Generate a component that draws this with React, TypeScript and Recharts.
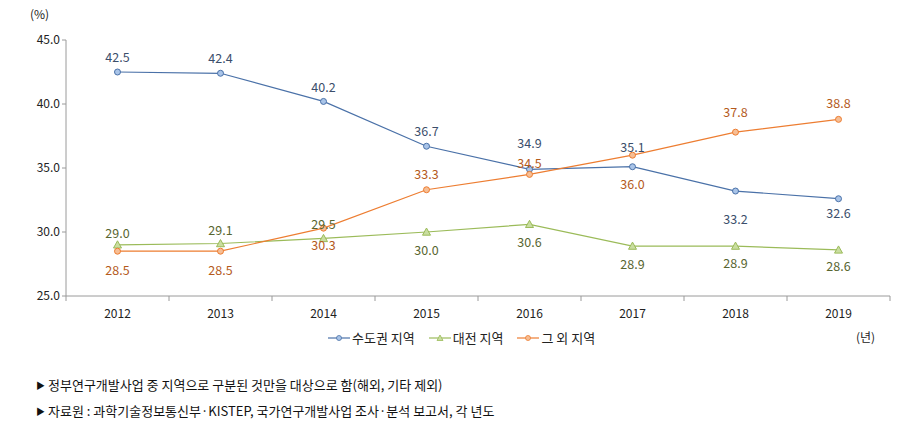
import React from 'react';
import { LineChart, Line, XAxis, YAxis } from 'recharts';

const years = ['2012', '2013', '2014', '2015', '2016', '2017', '2018', '2019'];
const capitalArea = [42.5, 42.4, 40.2, 36.7, 34.9, 35.1, 33.2, 32.6];
const daejeon = [29.0, 29.1, 29.5, 30.0, 30.6, 28.9, 28.9, 28.6];
const others = [28.5, 28.5, 30.3, 33.3, 34.5, 36.0, 37.8, 38.8];
const yTicks = [25, 30, 35, 40, 45];
const seriesNames = ['수도권 지역', '대전 지역', '그 외 지역'];
const notes = [
    '정부연구개발사업 중 지역으로 구분된 것만을 대상으로 함(해외, 기타 제외)',
    '자료원 : 과학기술정보통신부·KISTEP, 국가연구개발사업 조사·분석 보고서, 각 년도',
];

// vertical nudge of each value label from its point (px, negative = above)
const BLUE_NUDGE = [-16, -16, -15, -16, -27, -20, 27, 14];
const GREEN_NUDGE = [-12, -14, -15, 17, 17, 17, 16, 16];
const ORANGE_NUDGE = [18, 18, 16, -16, -12, 28, -21, -17];

const FONT = '"Noto Sans CJK KR", "Noto Sans", sans-serif';

const COLORS = {
    blue: { line: '#4A71A8', fill: '#A9C4E8', label: '#3B4E6B' },
    green: { line: '#9BBB59', fill: '#C9DDA0', label: '#58652F' },
    orange: { line: '#ED7D31', fill: '#F6BE95', label: '#B45A1C' },
};

const data = years.map((y, i) => ({
    year: y,
    capital: capitalArea[i],
    daejeon: daejeon[i],
    others: others[i],
}));

const BAND = 103;

const makeLabel = (nudge: number[], color: string) => (props: any) => {
    const { x, y, value, index } = props;
    return (
        <text
            key={index}
            x={x}
            y={y + nudge[index]}
            textAnchor="middle"
            dominantBaseline="central"
            fontSize={12.5}
            fontFamily={FONT}
            fill={color}
        >
            {Number(value).toFixed(1)}
        </text>
    );
};

const CircleDot = (c: { line: string; fill: string }) => (props: any) => {
    const { cx, cy, index } = props;
    return <circle key={index} cx={cx} cy={cy} r={3} fill={c.fill} stroke={c.line} strokeWidth={1} />;
};

const TriangleDot = (props: any) => {
    const { cx, cy, index } = props;
    const s = 4;
    return (
        <polygon
            key={index}
            points={`${cx},${cy - s} ${cx - s},${cy + s * 0.8} ${cx + s},${cy + s * 0.8}`}
            fill={COLORS.green.fill}
            stroke={COLORS.green.line}
            strokeWidth={1}
        />
    );
};

const XTick = (props: any) => {
    const { x, y, payload, index } = props;
    const last = index === years.length - 1;
    return (
        <g>
            <line x1={x - BAND / 2} y1={y - 8} x2={x - BAND / 2} y2={y - 3} stroke="#9a9a9a" />
            {last && <line x1={x + BAND / 2} y1={y - 8} x2={x + BAND / 2} y2={y - 3} stroke="#9a9a9a" />}
            <text x={x} y={y + 14} textAnchor="middle" fontSize={12} fontFamily={FONT} fill="#222">
                {payload.value}
            </text>
        </g>
    );
};

const LegendItem = ({ color, name, tri }: { color: { line: string; fill: string }; name: string; tri?: boolean }) => (
    <span style={{ display: 'inline-flex', alignItems: 'center', marginRight: 14 }}>
        <svg width={22} height={10}>
            <line x1={0} y1={5} x2={22} y2={5} stroke={color.line} strokeWidth={1.2} />
            {tri ? (
                <polygon points="11,2 8,7.5 14,7.5" fill={color.fill} stroke={color.line} strokeWidth={0.8} />
            ) : (
                <circle cx={11} cy={5} r={2.5} fill={color.fill} stroke={color.line} strokeWidth={0.8} />
            )}
        </svg>
        <span style={{ marginLeft: 2 }}>{name}</span>
    </span>
);

export default function App() {
    return (
        <div style={{ position: 'absolute', left: 0, top: 0, width: 910, height: 433, background: '#fff', fontFamily: FONT }}>
            <div style={{ position: 'absolute', left: 30, top: 5, fontSize: 12, color: '#222' }}>(%)</div>
            <LineChart
                width={910}
                height={330}
                data={data}
                margin={{ top: 40, right: 20, bottom: 4, left: 8 }}
            >
                <XAxis
                    dataKey="year"
                    scale="band"
                    axisLine={{ stroke: '#9a9a9a' }}
                    tickLine={false}
                    tick={<XTick />}
                    height={30}
                    interval={0}
                />
                <YAxis
                    domain={[25, 45]}
                    ticks={yTicks}
                    width={58}
                    axisLine={{ stroke: '#9a9a9a' }}
                    tickLine={{ stroke: '#9a9a9a' }}
                    tickSize={4}
                    tickFormatter={(v: number) => v.toFixed(1)}
                    tick={{ fontSize: 12, fontFamily: FONT, fill: '#222' }}
                    allowDataOverflow
                />
                <Line
                    dataKey="capital"
                    stroke={COLORS.blue.line}
                    strokeWidth={1.2}
                    dot={CircleDot(COLORS.blue)}
                    label={makeLabel(BLUE_NUDGE, COLORS.blue.label)}
                    isAnimationActive={false}
                />
                <Line
                    dataKey="daejeon"
                    stroke={COLORS.green.line}
                    strokeWidth={1.2}
                    dot={TriangleDot}
                    label={makeLabel(GREEN_NUDGE, COLORS.green.label)}
                    isAnimationActive={false}
                />
                <Line
                    dataKey="others"
                    stroke={COLORS.orange.line}
                    strokeWidth={1.2}
                    dot={CircleDot(COLORS.orange)}
                    label={makeLabel(ORANGE_NUDGE, COLORS.orange.label)}
                    isAnimationActive={false}
                />
            </LineChart>
            <div
                style={{
                    position: 'absolute',
                    left: 328,
                    top: 328,
                    fontSize: 13,
                    color: '#222',
                    display: 'flex',
                    alignItems: 'center',
                    whiteSpace: 'nowrap',
                }}
            >
                <LegendItem color={COLORS.blue} name={seriesNames[0]} />
                <LegendItem color={COLORS.green} name={seriesNames[1]} tri />
                <LegendItem color={COLORS.orange} name={seriesNames[2]} />
            </div>
            <div style={{ position: 'absolute', left: 856, top: 328, fontSize: 12, color: '#222' }}>(년)</div>
            <div style={{ position: 'absolute', left: 36, top: 372, fontSize: 13, color: '#111', lineHeight: '25px' }}>
                {notes.map((n) => (
                    <div key={n} style={{ whiteSpace: 'nowrap' }}>
                        <span style={{ fontSize: 9, marginRight: 3, verticalAlign: 1 }}>▶</span>
                        {n}
                    </div>
                ))}
            </div>
        </div>
    );
}
